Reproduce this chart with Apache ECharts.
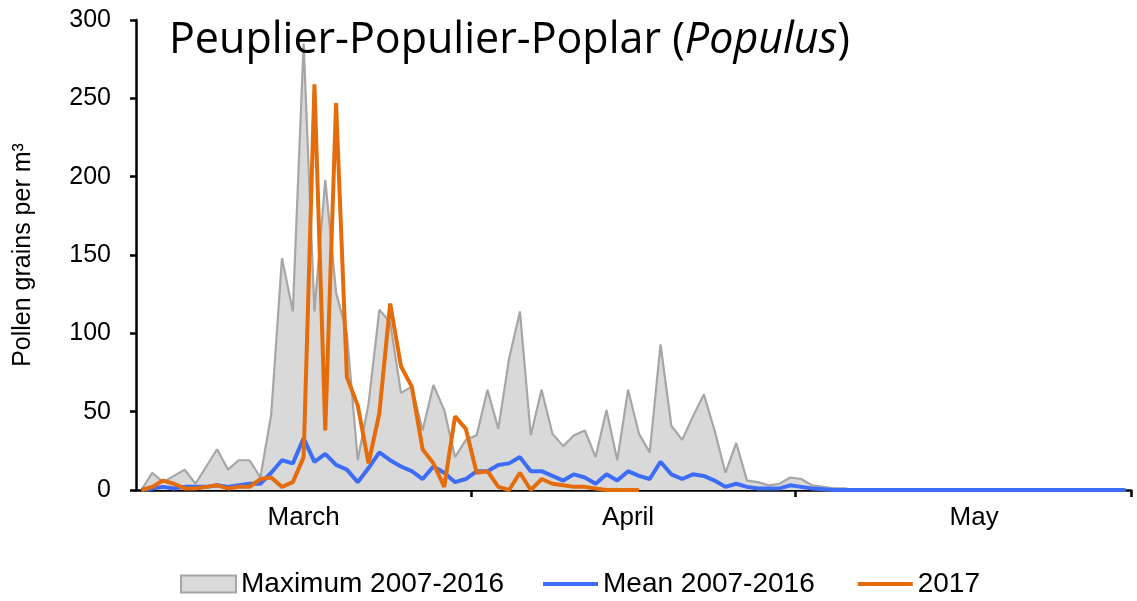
<!DOCTYPE html>
<html>
<head>
<meta charset="utf-8">
<script src="https://cdn.jsdelivr.net/npm/echarts@6/dist/echarts.min.js"></script>
<style>
  html, body { margin: 0; padding: 0; background: #fff; }
  #main { width: 1137px; height: 601px; }
</style>
</head>
<body>
<div id="main"></div>
<script>
var months = ['March', 'April', 'May'];
var monthDays = [31, 30, 31];
var monthLabelAt = [15, 45, 77];     // category index where each month name sits
var monthTickAt = [31, 61];          // first day of April, first day of May

// daily pollen counts (grains per m3), 1 March - 31 May
var maxData = [0, 11, 5, 9, 13, 4, 15, 26, 13, 19, 19, 8, 48, 148, 114, 285, 114, 198, 126, 100,
  19, 55, 115, 107, 62, 66, 38, 67, 51, 21, 32, 35, 64, 39, 84, 114, 35, 64, 36, 28,
  35, 38, 21, 51, 19, 64, 36, 24, 93, 41, 32, 47, 61, 38, 11, 30, 6, 5, 3, 4,
  8, 7, 3, 2, 1, 1, 0, 0, 0, 0, 0, 0, 0, 0, 0, 0, 0, 0, 0, 0,
  0, 0, 0, 0, 0, 0, 0, 0, 0, 0, 0, 0];
var meanData = [0, 1, 2, 1, 2, 2, 2, 3, 2, 3, 4, 4, 11, 19, 17, 33, 18, 23, 16, 13,
  5, 14, 24, 19, 15, 12, 7, 15, 11, 5, 7, 12, 12, 16, 17, 21, 12, 12, 9, 6,
  10, 8, 4, 10, 6, 12, 9, 7, 18, 10, 7, 10, 9, 6, 2, 4, 2, 1, 1, 1,
  3, 2, 1, 0.5, 0, 0, 0, 0, 0, 0, 0, 0, 0, 0, 0, 0, 0, 0, 0, 0,
  0, 0, 0, 0, 0, 0, 0, 0, 0, 0, 0, 0];
var data2017 = [0, 2, 6, 4, 1, 1, 2, 3, 1, 2, 2, 7, 8, 2, 5, 21, 259, 38, 247, 72,
  54, 17, 49, 119, 79, 66, 26, 17, 2, 47, 39, 11, 12, 2, 0, 11, 0, 7, 4, 3,
  2, 2, 1, 0, 0, 0, 0];

var yTicks = [0, 50, 100, 150, 200, 250, 300];

var days = [];
months.forEach(function (m, k) {
    for (var d = 1; d <= monthDays[k]; d++) days.push(m + ' ' + d);
});

var myChart = echarts.init(document.getElementById('main'));
var font = 'Liberation Sans, Arial, sans-serif';
var legendText = { fontFamily: font, fontSize: 28, color: '#000' };

var option = {
    animation: false,
    title: {
        text: '{a|Peuplier-Populier-Poplar (}{b|Populus}{a|)}',
        left: 169,
        top: 19,
        padding: 0,
        textStyle: {
            rich: {
                a: { fontFamily: 'Open Sans', fontWeight: 'normal', fontSize: 43, color: '#000' },
                b: { fontFamily: 'Open Sans', fontWeight: 'normal', fontStyle: 'italic', fontSize: 43, color: '#000' }
            }
        }
    },
    grid: { left: 136, right: 6, top: 20, bottom: 111 },
    legend: [
        {
            left: 180,
            top: 570,
            padding: 0,
            itemWidth: 55,
            itemHeight: 17,
            textStyle: legendText,
            data: [
                { name: 'Maximum 2007-2016', icon: 'rect',
                  itemStyle: { color: '#d9d9d9', borderColor: '#a6a6a6', borderWidth: 2 } }
            ]
        },
        {
            left: 543,
            top: 570,
            padding: 0,
            itemWidth: 55,
            itemHeight: 4,
            itemGap: 43,
            icon: 'rect',
            textStyle: legendText,
            data: ['Mean 2007-2016', '2017']
        }
    ],
    xAxis: {
        type: 'category',
        data: days,
        boundaryGap: true,
        axisLine: { lineStyle: { color: '#000', width: 2.5 } },
        axisTick: {
            show: true,
            length: 7,
            lineStyle: { color: '#000', width: 2.5 },
            interval: function (i) { return monthTickAt.indexOf(i) >= 0; }
        },
        axisLabel: {
            margin: 15,
            fontFamily: font,
            fontSize: 26,
            color: '#000',
            interval: function (i) { return monthLabelAt.indexOf(i) >= 0; },
            formatter: function (v) { return v.split(' ')[0]; }
        },
        splitLine: { show: false }
    },
    yAxis: {
        type: 'value',
        min: yTicks[0],
        max: yTicks[yTicks.length - 1],
        interval: 50,
        name: 'Pollen grains per m³',
        nameLocation: 'middle',
        nameGap: 100,
        nameTextStyle: { fontFamily: font, fontSize: 25, color: '#000' },
        axisLine: { show: true, lineStyle: { color: '#000', width: 2.5 } },
        axisTick: { show: true, length: 6, lineStyle: { color: '#000', width: 2.5 } },
        axisLabel: { margin: 25, fontFamily: font, fontSize: 25, color: '#000' },
        splitLine: { show: false }
    },
    series: [
        {
            name: 'Maximum 2007-2016',
            type: 'line',
            data: maxData,
            symbol: 'none',
            lineStyle: { color: '#a6a6a6', width: 2.2 },
            itemStyle: { color: '#a6a6a6' },
            areaStyle: { color: '#d9d9d9', opacity: 1 }
        },
        {
            name: 'Mean 2007-2016',
            type: 'line',
            data: meanData,
            symbol: 'none',
            lineStyle: { color: '#3d6cf7', width: 4 },
            itemStyle: { color: '#3d6cf7' }
        },
        {
            name: '2017',
            type: 'line',
            data: data2017,
            symbol: 'none',
            lineStyle: { color: '#e46c0a', width: 4 },
            itemStyle: { color: '#e46c0a' }
        }
    ]
};
myChart.setOption(option);
</script>
</body>
</html>
